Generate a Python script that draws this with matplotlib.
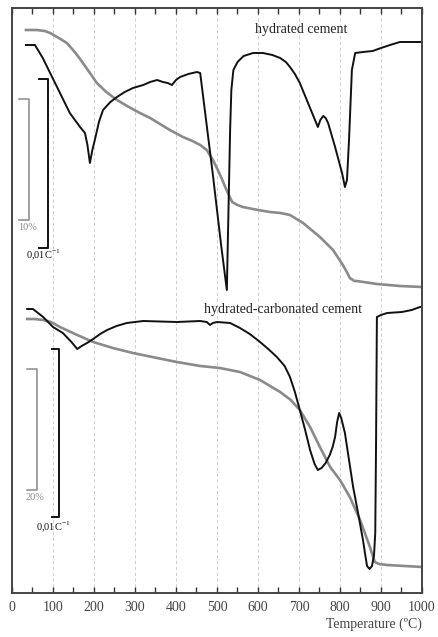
import matplotlib
matplotlib.use('Agg')
import matplotlib.pyplot as plt

plt.rcParams['font.family'] = ['Liberation Serif', 'DejaVu Serif']

# temperature (C) and curve height (rows from the top of the plot, arbitrary units)
# hydrated cement - TG (gray)
t_tg_hyd = [34, 60, 80, 93, 110, 134, 155, 173, 190, 207, 230, 256, 285, 312, 337,
            385, 417, 440, 459, 475, 490, 502, 512, 520, 530, 537, 550, 563, 600,
            629, 655, 678, 710, 751, 783, 807, 818, 824, 835, 841, 890, 946, 1000]
tg_hyd = [30, 30, 31, 33, 37, 43, 53, 63, 73, 83, 92, 100, 107, 113, 118,
          130, 137, 141, 145, 150, 160, 170, 179, 187, 196, 202, 205, 207, 210,
          212, 213, 215, 223, 237, 250, 265, 273, 278, 281, 281, 284, 286, 287]

# hydrated cement - DTG (black)
t_dtg_hyd = [34, 56, 75, 93, 117, 141, 166, 178, 184, 190, 196, 202, 212, 222, 240,
             256, 275, 295, 320, 337, 354, 368, 380, 390, 400, 410, 430, 451, 459,
             490, 510, 524, 528, 532, 535, 540, 550, 565, 588, 612, 635, 654, 668,
             678, 690, 702, 722, 746, 752, 759, 765, 771, 788, 805, 812, 817,
             822, 829, 837, 856, 880, 893, 922, 946, 1000]
dtg_hyd = [45, 45, 58, 73, 93, 113, 127, 133, 145, 163, 150, 140, 122, 110, 102,
           97, 92, 88, 85, 82, 80, 82, 83, 85, 80, 77, 74, 72, 73,
           175, 245, 290, 210, 130, 90, 70, 62, 56, 53, 53, 55, 58, 62,
           67, 74, 83, 103, 127, 120, 116, 118, 123, 147, 173, 187, 180,
           140, 70, 53, 52, 51, 49, 45, 42, 42]

# hydrated-carbonated cement - TG (gray)
t_tg_carb = [37, 55, 76, 95, 117, 159, 198, 246, 295, 354, 402, 459, 507, 556, 605,
             654, 680, 702, 727, 751, 776, 800, 824, 849, 865, 873, 880, 885, 895,
             915, 1000]
tg_carb = [319, 319, 320, 322, 327, 335, 342, 348, 353, 358, 362, 366, 368, 372, 380,
           392, 400, 410, 427, 447, 467, 480, 497, 520, 538, 547, 556, 562, 564,
           565, 567]

# hydrated-carbonated cement - DTG (black)
t_dtg_carb = [37, 51, 76, 100, 124, 145, 159, 170, 183, 198, 215, 232, 255, 280, 320,
              402, 459, 475, 483, 490, 500, 532, 556, 580, 605, 625, 646, 665, 678,
              690, 702, 715, 727, 738, 746, 755, 765, 775, 782, 788, 793, 798,
              803, 812, 822, 832, 845, 856, 862, 866, 872, 878, 883, 886, 888,
              890, 900, 915, 951, 975, 995, 1000]
dtg_carb = [309, 309, 317, 327, 333, 342, 349, 346, 343, 339, 334, 330, 326, 323, 321,
            322, 321, 322, 325, 323, 322, 323, 328, 334, 342, 349, 357, 366, 377,
            392, 410, 430, 450, 464, 470, 468, 463, 455, 447, 437, 422, 413,
            418, 433, 460, 487, 515, 540, 556, 566, 569, 566, 555, 533, 440,
            317, 315, 313, 312, 310, 307, 307]

temp_ticks = list(range(0, 1001, 100))
titles = ['hydrated cement', 'hydrated-carbonated cement']

gray = '#8a8a8a'
black = '#111111'

fig = plt.figure(figsize=(4.39, 6.37), dpi=100)
ax = fig.add_axes([12 / 439, 1 - 593 / 637, 410 / 439, 585 / 637])

for t in temp_ticks[1:-1]:
    ax.axvline(t, color='#c8c8c8', lw=0.6, ls=(0, (4, 3)), zorder=0)

ax.plot(t_tg_hyd, tg_hyd, color=gray, lw=1.9)
ax.plot(t_dtg_hyd, dtg_hyd, color=black, lw=1.4)
ax.plot(t_tg_carb, tg_carb, color=gray, lw=1.9)
ax.plot(t_dtg_carb, dtg_carb, color=black, lw=1.4)

ax.set_xlim(0, 1000)
ax.set_ylim(593, 8)
ax.set_xticks(temp_ticks)
ax.set_xticks(range(50, 1000, 100), minor=True)
ax.tick_params(axis='x', which='both', direction='in', top=True, length=4,
               width=1, labelsize=10, colors='#333333', pad=6)
ax.tick_params(axis='x', labelcolor='#444444')
ax.set_yticks([])
for s in ax.spines.values():
    s.set_linewidth(1.4)
    s.set_color('#444444')

ax.set_xlabel('Temperature (ºC)', fontsize=10, color='#444444', loc='right', labelpad=2)

ax.text(705, 29, titles[0], fontsize=10, ha='center', va='center', color='#222222')
ax.text(661, 309, titles[1], fontsize=10, ha='center', va='center', color='#222222')


def scale_bar(x0, x1, y0, y1, color, lw):
    ax.plot([x0, x1, x1, x0], [y0, y0, y1, y1], color=color, lw=lw, clip_on=False)


unit = '0,01C$^{\\mathregular{-1}}$'

# scale bars (top panel)
scale_bar(17, 41, 99, 220, gray, 1.1)
scale_bar(66, 88, 79, 248, black, 1.4)
ax.text(14, 228, '10%', fontsize=7.5, color=gray, ha='left', va='center')
ax.text(34, 255, unit, fontsize=7.5, color=black, ha='left', va='center')

# scale bars (bottom panel)
scale_bar(37, 61, 369, 490, gray, 1.1)
scale_bar(98, 115, 349, 517, black, 1.4)
ax.text(34, 498, '20%', fontsize=7.5, color=gray, ha='left', va='center')
ax.text(58, 527, unit, fontsize=7.5, color=black, ha='left', va='center')

fig.savefig('out.png', dpi=100)
